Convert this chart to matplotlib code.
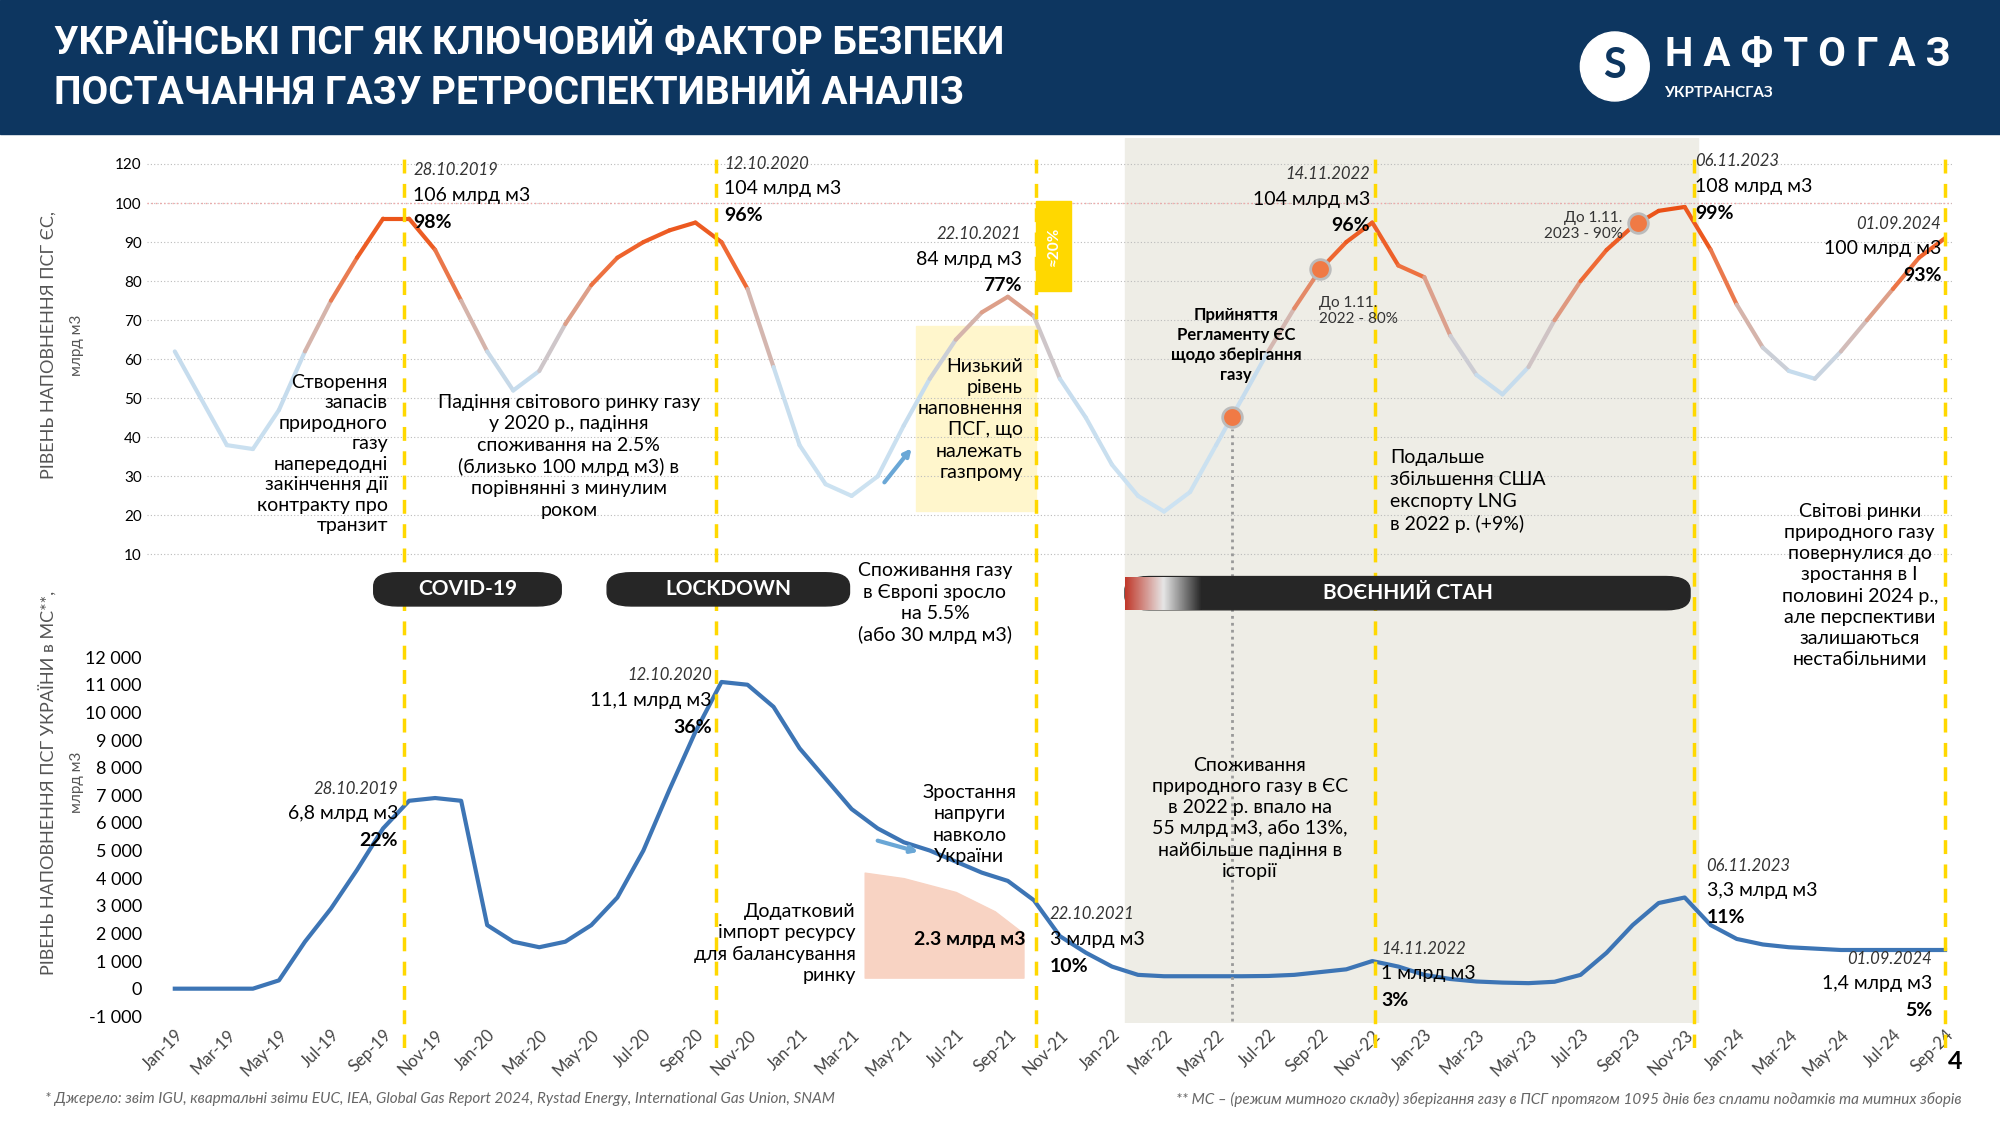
import numpy as np
import matplotlib.pyplot as plt
from matplotlib.collections import LineCollection
from matplotlib.colors import LinearSegmentedColormap
from matplotlib.patches import FancyBboxPatch, Rectangle, Ellipse

plt.rcParams['font.family'] = 'Lato'

# month labels, Jan-19 .. Sep-24
months = [f"{m}-{y}" for y in range(19, 25) for m in
          ["Jan", "Feb", "Mar", "Apr", "May", "Jun", "Jul", "Aug", "Sep", "Oct", "Nov", "Dec"]][:69]

# EU storage fill, %
eu_level = [62, 50, 38, 37, 47, 62, 75, 86, 96, 96, 88,
            75, 62, 52, 57, 69, 79, 86, 90, 93, 95, 90, 78,
            58, 38, 28, 25, 30, 43, 55, 65, 72, 76, 71, 55,
            45, 33, 25, 21, 26, 38, 50, 62, 73, 83, 90, 95,
            84, 81, 66, 56, 51, 58, 70, 80, 88, 94, 98, 99, 88,
            74, 63, 57, 55, 62, 70, 78, 86, 91]

# Ukraine storage in customs warehouse mode, mln m3
ua_mc = [0, 0, 0, 0, 300, 1700, 2900, 4300, 5800, 6800, 6900, 6800,
         2300, 1700, 1500, 1700, 2300, 3300, 5000, 7200, 9300, 11100, 11000, 10200,
         8700, 7600, 6500, 5800, 5300, 5000, 4600, 4200, 3900, 3200, 1900, 1300,
         800, 500, 450, 450, 450, 450, 460, 500, 600, 700, 1000, 800,
         500, 350, 260, 220, 200, 250, 500, 1300, 2300, 3100, 3300, 2300,
         1800, 1600, 1500, 1450, 1400, 1400, 1400, 1400, 1400]

uy_ticks = list(range(-1000, 12001, 1000))
eu_ticks = [10, 20, 30, 40, 50, 60, 70, 80, 90, 100, 110]
eu_tick_labels = ["10", "20", "30", "40", "50", "60", "70", "80", "90", "100", "120"]

# key dates as month positions (Jan-19 = 0)
key_dates = [8.8, 20.8, 33.1, 46.1, 58.35, 68.0]
# milestone markers on the EU curve
marker_dates = [40.6, 44.0, 56.2]

NAVY = '#0d3660'
W, H = 1568, 880  # layout coordinates of the reference


def fx(x):
    return x / W


def fy(y):
    return 1 - y / H


fig = plt.figure(figsize=(20, 11.25), dpi=100)

# header
fig.patches.append(Rectangle((0, fy(105)), 1, 105 / H, transform=fig.transFigure,
                             color=NAVY, zorder=0))
fig.text(fx(42), fy(34), "УКРАЇНСЬКІ ПСГ ЯК КЛЮЧОВИЙ ФАКТОР БЕЗПЕКИ", color='white',
         fontsize=28, fontweight='bold', va='center', family='Roboto')
fig.text(fx(42), fy(73), "ПОСТАЧАННЯ ГАЗУ РЕТРОСПЕКТИВНИЙ АНАЛІЗ", color='white',
         fontsize=28, fontweight='bold', va='center', family='Roboto')
fig.patches.append(Ellipse((fx(1266), fy(52)), 54 / W, 54 / H, transform=fig.transFigure,
                           color='white', zorder=2))
fig.text(fx(1266), fy(52), "S", color=NAVY, fontsize=30, fontweight='bold',
         ha='center', va='center', zorder=3)
fig.text(fx(1305), fy(43), "Н А Ф Т О Г А З", color='white', fontsize=29, fontweight='bold',
         va='center', family='Roboto')
fig.text(fx(1305), fy(73), "УКРТРАНСГАЗ", color='white', fontsize=11, fontweight='bold',
         va='center')

x_left, x_right = -1.08, 68.25
x = np.arange(len(eu_level))

# war shading across both panels
bg = fig.add_axes([fx(115), fy(800), fx(1530) - fx(115), (800 - 108) / H], zorder=0)
bg.set_xlim(x_left, x_right)
bg.set_ylim(0, 1)
bg.axis('off')
bg.axvspan(36.5, 58.5, color='#eeede6', zorder=0)

# upper panel: EU
ax1 = fig.add_axes([fx(115), fy(449), fx(1530) - fx(115), (449 - 113) / H], zorder=2)
ax1.patch.set_alpha(0)
ax1.set_xlim(x_left, x_right)
ax1.set_ylim(5, 115)
for v in eu_ticks:
    ax1.axhline(v, color='#bbbbbb', lw=0.8, ls=(0, (1, 2)), zorder=0)
ax1.axhline(100, color='#f4a6a6', lw=1, ls=(0, (1, 2)), zorder=0)
cmap = LinearSegmentedColormap.from_list('eu', [(0, '#cde3f2'), (0.45, '#c6dced'),
                                                 (0.65, '#d9a99a'), (0.8, '#ef6a35'),
                                                 (1, '#ea4e12')])
pts = np.column_stack([x, eu_level])
segs = np.stack([pts[:-1], pts[1:]], axis=1)
lc = LineCollection(segs, cmap=cmap, linewidth=3, capstyle='round', joinstyle='round')
lc.set_array((np.array(eu_level[:-1]) + np.array(eu_level[1:])) / 2)
lc.set_clim(20, 100)
ax1.add_collection(lc)
ax1.set_yticks(eu_ticks)
ax1.set_yticklabels(eu_tick_labels)
ax1.set_xticks([])
for s in ax1.spines.values():
    s.set_visible(False)
ax1.tick_params(axis='y', length=0, labelsize=11)
ax1.scatter(marker_dates, np.interp(marker_dates, x, eu_level), s=200, color='#f07a45',
            edgecolor='#bbbbbb', lw=2, zorder=5)

# lower panel: Ukraine
ax2 = fig.add_axes([fx(115), fy(799.3), fx(1530) - fx(115), (799.3 - 503.2) / H], zorder=2)
ax2.patch.set_alpha(0)
ax2.set_xlim(x_left, x_right)
ax2.set_ylim(-1200, 12500)
ax2.plot(x, ua_mc, color='#3d75b5', lw=3, zorder=3)
ax2.fill_between([26.5, 28, 30, 31.5, 32.6], [4200, 4000, 3500, 2800, 2000], 400,
                 color='#f8d3c3', zorder=1)
ax2.set_yticks(uy_ticks)
ax2.set_yticklabels([f"{v:,}".replace(",", " ") for v in uy_ticks])
ax2.set_xticks(range(0, 69, 2))
ax2.set_xticklabels(months[::2], rotation=45, ha='right', rotation_mode='anchor')
for s in ax2.spines.values():
    s.set_visible(False)
ax2.tick_params(length=0, labelsize=13)
ax2.tick_params(axis='x', labelsize=12, colors='#444444')

# overlay for key-date lines
ov = fig.add_axes([fx(115), fy(820), fx(1530) - fx(115), (820 - 118) / H], zorder=3)
ov.set_xlim(x_left, x_right)
ov.set_ylim(0, 1)
ov.axis('off')
for d in key_dates:
    ov.axvline(d, color='#ffd800', lw=2.5, ls=(0, (4, 3)))
ov.axvline(marker_dates[0], ymin=0.03, ymax=0.69, color='#999999', lw=2, ls=(0, (1, 1.5)))

# axis titles
fig.text(fx(38), fy(270), "РІВЕНЬ НАПОВНЕННЯ ПСГ ЄС,", rotation=90, ha='center',
         va='center', fontsize=13, color='#555555')
fig.text(fx(60), fy(270), "млрд м3", rotation=90, ha='center', va='center',
         fontsize=11, color='#555555')
fig.text(fx(38), fy(612), "РІВЕНЬ НАПОВНЕННЯ ПСГ УКРАЇНИ в МС**,", rotation=90,
         ha='center', va='center', fontsize=13, color='#555555')
fig.text(fx(60), fy(612), "млрд м3", rotation=90, ha='center', va='center',
         fontsize=11, color='#555555')


def callout(x0, y0, date, vol, pct, ha='left'):
    fig.text(fx(x0), fy(y0), date, fontsize=12, style='italic', color='#333333', ha=ha)
    fig.text(fx(x0), fy(y0 + 20), vol, fontsize=14, color='black', ha=ha)
    fig.text(fx(x0), fy(y0 + 41), pct, fontsize=14, fontweight='bold', ha=ha)


callout(324, 137, "28.10.2019", "106 млрд м3", "98%")
callout(568, 132, "12.10.2020", "104 млрд м3", "96%")
callout(801, 187, "22.10.2021", "84 млрд м3", "77%", ha='right')
callout(1074, 140, "14.11.2022", "104 млрд м3", "96%", ha='right')
callout(1329, 130, "06.11.2023", "108 млрд м3", "99%")
callout(1522, 179, "01.09.2024", "100 млрд м3", "93%", ha='right')

callout(312, 621, "28.10.2019", "6,8 млрд м3", "22%", ha='right')
callout(558, 532, "12.10.2020", "11,1 млрд м3", "36%", ha='right')
callout(823, 719, "22.10.2021", "3 млрд м3", "10%")
callout(1083, 746, "14.11.2022", "1 млрд м3", "3%")
callout(1338, 681, "06.11.2023", "3,3 млрд м3", "11%")
callout(1515, 754, "01.09.2024", "1,4 млрд м3", "5%", ha='right')

fig.text(fx(304), fy(355), "Створення\nзапасів\nприродного\nгазу\nнапередодні\nзакінчення дії\nконтракту про\nтранзит",
         ha='right', va='center', fontsize=14, linespacing=1.25)
fig.text(fx(446), fy(357), "Падіння світового ринку газу\nу 2020 р., падіння\nспоживання на 2.5%\n(близько 100 млрд м3) в\nпорівнянні з минулим\nроком",
         ha='center', va='center', fontsize=14, linespacing=1.3)
fig.patches.append(Rectangle((fx(718), fy(400)), fx(94), 145 / H, transform=fig.transFigure,
                             color='#fff6cc', zorder=1))
fig.text(fx(802), fy(328), "Низький\nрівень\nнаповнення\nПСГ, що\nналежать\nгазпрому",
         ha='right', va='center', fontsize=14, linespacing=1.3, zorder=4)
fig.patches.append(Rectangle((fx(812), fy(228)), fx(28), 71 / H, transform=fig.transFigure,
                             color='#ffd800', zorder=4))
fig.text(fx(826), fy(193), "≈20%", rotation=90, ha='center', va='center', color='white',
         fontsize=11, fontweight='bold', zorder=5)
fig.text(fx(969), fy(270), "Прийняття\nРегламенту ЄС\nщодо зберігання\nгазу",
         ha='center', va='center', fontsize=12, fontweight='bold', linespacing=1.3, zorder=4)
fig.text(fx(1034), fy(243), "До 1.11.\n2022 - 80%", fontsize=11, va='center',
         color='#333333', zorder=4)
fig.text(fx(1272), fy(177), "До 1.11.\n2023 - 90%", fontsize=11, va='center', ha='right',
         color='#333333', zorder=4)
fig.text(fx(1090), fy(384), "Подальше\nзбільшення США\nекспорту LNG\nв 2022 р. (+9%)",
         va='center', fontsize=14, linespacing=1.35, zorder=4)
fig.text(fx(1458), fy(458), "Світові ринки\nприродного газу\nповернулися до\nзростання в І\nполовині 2024 р.,\nале перспективи\nзалишаються\nнестабільними",
         ha='center', va='center', fontsize=14, linespacing=1.3, zorder=4)
fig.text(fx(733), fy(472), "Споживання газу\nв Європі зросло\nна 5.5%\n(або 30 млрд м3)",
         ha='center', va='center', fontsize=14, linespacing=1.3, zorder=4)
fig.text(fx(760), fy(645), "Зростання\nнапруги\nнавколо\nУкраїни",
         ha='center', va='center', fontsize=14, linespacing=1.3, zorder=4)
fig.text(fx(671), fy(738), "Додатковий\nімпорт ресурсу\nдля балансування\nринку",
         ha='right', va='center', fontsize=14, linespacing=1.3, zorder=4)
fig.text(fx(760), fy(735), "2.3 млрд м3", ha='center', va='center', fontsize=14,
         fontweight='bold', zorder=4)
fig.text(fx(980), fy(640), "Споживання\nприродного газу в ЄС\nв 2022 р. впало на\n55 млрд м3, або 13%,\nнайбільше падіння в\nісторії",
         ha='center', va='center', fontsize=14, linespacing=1.3, zorder=4)

# arrows
fig.add_artist(plt.Annotation("", xy=(fx(716), fy(349)), xytext=(fx(692), fy(379)),
                              xycoords='figure fraction', arrowprops=dict(
                                  arrowstyle='-|>', color='#6aa7d6', lw=3)))
fig.add_artist(plt.Annotation("", xy=(fx(722), fy(667)), xytext=(fx(686), fy(657)),
                              xycoords='figure fraction', arrowprops=dict(
                                  arrowstyle='-|>', color='#6aa7d6', lw=3)))


# pills
def pill(x0, x1, y0, y1, label):
    fig.patches.append(FancyBboxPatch((fx(x0), fy(y1)), fx(x1 - x0), (y1 - y0) / H,
                                      boxstyle="round,pad=0,rounding_size=0.012",
                                      transform=fig.transFigure, color='#262626', zorder=4,
                                      mutation_aspect=1))
    fig.text(fx((x0 + x1) / 2), fy((y0 + y1) / 2), label, color='white', fontsize=15,
             fontweight='bold', ha='center', va='center', zorder=5)


pill(293, 440, 448, 474, "COVID-19")
pill(476, 666, 448, 474, "LOCKDOWN")
pill(882, 1325, 451, 477, "ВОЄННИЙ СТАН")
grad = np.linspace(0, 1, 100)[None, :]
gax = fig.add_axes([fx(882), fy(477), fx(60), 26 / H], zorder=6)
gax.imshow(grad, aspect='auto', cmap=LinearSegmentedColormap.from_list(
    'w', ['#c0392b', '#e6e6e6', '#262626']))
gax.axis('off')

fig.text(fx(1533), fy(830), "4", fontsize=18, fontweight='bold', ha='center', va='center')
fig.text(fx(35), fy(860), "* Джерело: звіт IGU, квартальні звіти EUC, IEA, Global Gas Report 2024, Rystad Energy, International Gas Union, SNAM",
         fontsize=11, style='italic', color='#666666', va='center')
fig.text(fx(1538), fy(860), "** МС – (режим митного складу) зберігання газу в ПСГ протягом 1095 днів без сплати податків та митних зборів",
         fontsize=11, style='italic', color='#666666', va='center', ha='right')

fig.savefig('out.png', dpi=100)
